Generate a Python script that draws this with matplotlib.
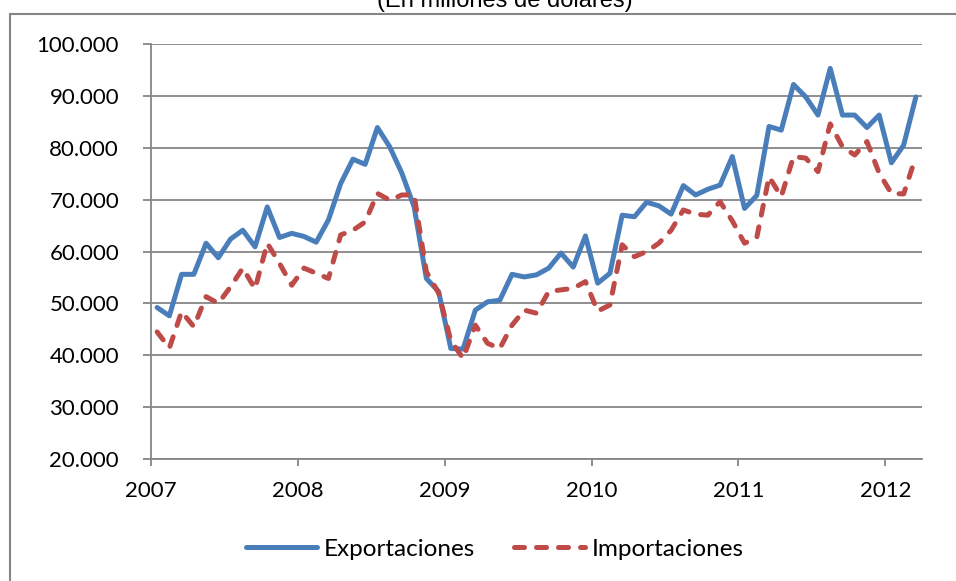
import matplotlib
matplotlib.use("Agg")
from matplotlib import pyplot as plt
from matplotlib.patches import Rectangle

# Monthly data, Jan 2007 - Mar 2012 (millions of dollars)
years = ['2007', '2008', '2009', '2010', '2011', '2012']
exportaciones = [49.2, 47.6, 55.6, 55.6, 61.6, 58.8, 62.4, 64.1, 60.9, 68.6, 62.7, 63.5,
                 62.9, 61.8, 66.1, 73.1, 77.8, 76.8, 83.9, 80.2, 75.1, 68.6, 54.8, 52.3,
                 41.3, 41.2, 48.7, 50.3, 50.6, 55.6, 55.1, 55.5, 56.8, 59.7, 57.0, 63.0,
                 53.9, 55.8, 67.0, 66.7, 69.5, 68.8, 67.2, 72.7, 70.9, 72.0, 72.8, 78.3,
                 68.3, 70.8, 84.1, 83.4, 92.2, 89.8, 86.3, 95.3, 86.3, 86.3, 83.9, 86.3,
                 77.1, 80.5, 89.8]
importaciones = [44.5, 41.4, 48.4, 45.5, 51.3, 50.0, 53.2, 56.8, 52.8, 61.6, 57.7, 53.5,
                 56.8, 55.8, 54.8, 63.2, 64.1, 65.7, 71.2, 69.9, 70.9, 70.9, 56.1, 52.0,
                 42.8, 39.4, 45.8, 42.3, 41.3, 45.8, 48.7, 48.1, 52.3, 52.6, 52.9, 54.2,
                 48.5, 49.7, 61.3, 59.0, 60.0, 61.6, 64.1, 68.0, 67.2, 67.0, 69.6, 65.9,
                 61.6, 62.7, 74.4, 70.6, 78.3, 78.0, 75.4, 84.6, 80.2, 78.6, 81.2, 75.1,
                 71.2, 71.1, 78.3]

exportaciones = [v * 1000 for v in exportaciones]
importaciones = [v * 1000 for v in importaciones]
x = [i + 0.5 for i in range(len(exportaciones))]

plt.rcParams['font.family'] = ['Lato', 'DejaVu Sans']

fig = plt.figure(figsize=(9.56, 5.81), dpi=100)
ax = fig.add_axes([151 / 956, 1 - 459 / 581, (922 - 151) / 956, (459 - 44) / 581])

grid_col = '#868686'
ax.plot(x, exportaciones, color='#4A7EBB', lw=3.6, solid_joinstyle='round',
        solid_capstyle='round', label='Exportaciones', zorder=3)
ax.plot(x, importaciones, color='#BE4B48', lw=3.6, linestyle=(0, (2.0, 2.4)),
        dash_capstyle='round', dash_joinstyle='round', label='Importaciones', zorder=3)

ax.set_xlim(0, len(exportaciones))
ax.set_ylim(20000, 100000)
ax.set_yticks(range(20000, 100001, 10000))
ax.set_yticklabels([f"{v:,}".replace(',', '.') for v in range(20000, 100001, 10000)])
ax.set_xticks([12 * k for k in range(len(years))])
ax.set_xticklabels(years)

ax.grid(axis='y', color=grid_col, lw=1.3)
ax.set_axisbelow(True)
for side in ['top', 'right']:
    ax.spines[side].set_visible(False)
for side in ['left', 'bottom']:
    ax.spines[side].set_color(grid_col)
    ax.spines[side].set_linewidth(1.3)
ax.tick_params(axis='y', length=6, width=1.3, color=grid_col, pad=17, labelsize=16)
ax.tick_params(axis='x', length=5, width=1.3, color=grid_col, pad=11, labelsize=16)

fig.legend(loc='center', bbox_to_anchor=(495 / 956, 1 - 549 / 581), ncol=2,
           frameon=False, fontsize=17.5, handlelength=2.9, handletextpad=0.3,
           columnspacing=1.6)

# chart area border and (cut-off) title
fig.patches.append(Rectangle((10 / 956, -0.05), 1.0, 1 - 14 / 581 + 0.05,
                             transform=fig.transFigure, fill=False,
                             edgecolor=grid_col, lw=1.5))
fig.text(505 / 956, 1 - 7 / 581, '(En millones de dólares)', ha='center',
         va='baseline', fontsize=17, family=['Liberation Sans', 'DejaVu Sans'])

fig.savefig('out.png', dpi=100)
